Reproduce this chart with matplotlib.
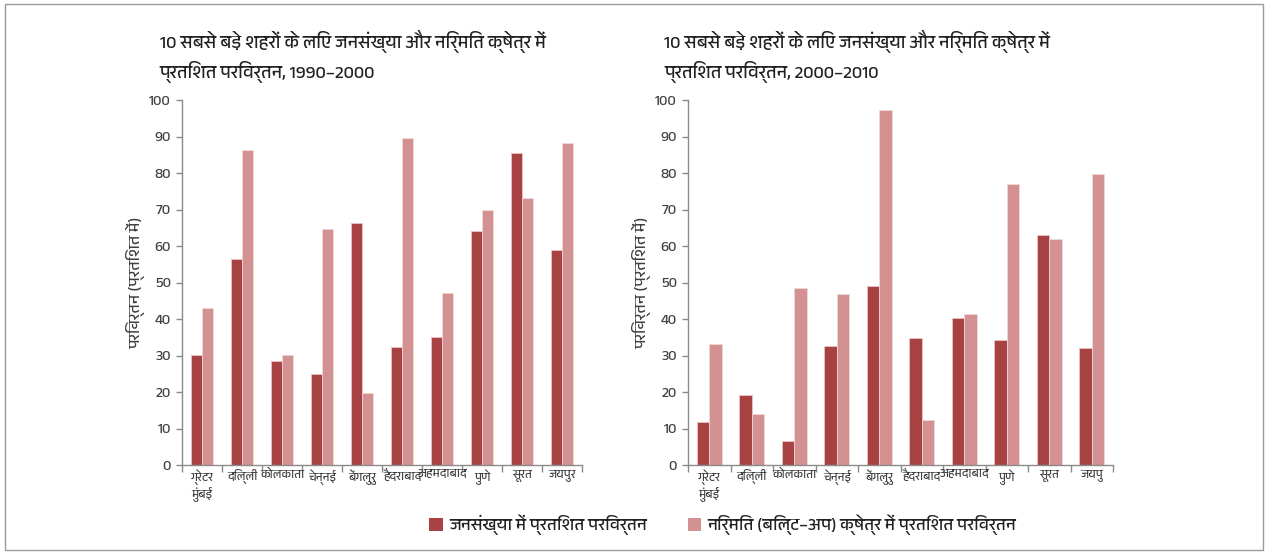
import numpy as np
import matplotlib
matplotlib.use("Agg")
import matplotlib.pyplot as plt
from matplotlib import font_manager
from matplotlib.ft2font import FT2Font
from matplotlib.patches import Rectangle, Patch

cities_a = ["ग्रेटर\nमुंबई", "दिल्ली", "कोलकाता", "चेन्नई", "बेंगलुरु", "हैदराबाद",
            "अहमदाबाद", "पुणे", "सूरत", "जयपुर"]
cities_b = ["ग्रेटर\nमुंबई", "दिल्ली", "कोलकाता", "चेन्नई", "बेंगलुरु", "हैदराबाद",
            "अहमदाबाद", "पुणे", "सूरत", "जयपु"]

pop_1990_2000 = [30.2, 56.5, 28.6, 24.9, 66.4, 32.4, 35.1, 64.0, 85.6, 59.0]
built_1990_2000 = [42.9, 86.2, 30.2, 64.8, 19.6, 89.7, 47.2, 69.8, 73.1, 88.1]
pop_2000_2010 = [11.9, 19.3, 6.7, 32.6, 49.1, 34.9, 40.3, 34.2, 63.1, 32.1]
built_2000_2010 = [33.2, 14.1, 48.4, 46.9, 97.4, 12.4, 41.4, 77.1, 61.8, 79.8]

title_a = "10 सबसे बड़े शहरों के लिए जनसंख्या और निर्मित क्षेत्र में\nप्रतिशत परिवर्तन, 1990–2000"
title_b = "10 सबसे बड़े शहरों के लिए जनसंख्या और निर्मित क्षेत्र में\nप्रतिशत परिवर्तन, 2000–2010"
ylabel = "परिवर्तन (प्रतिशत में)"
legend_labels = ["जनसंख्या में प्रतिशत परिवर्तन", "निर्मित (बिल्ट–अप) क्षेत्र में प्रतिशत परिवर्तन"]

DARK = "#a84242"
LIGHT = "#d39191"
GREY_TXT = "#404040"


def devanagari_family():
    # look for any installed font that carries Devanagari glyphs
    found = []
    for f in font_manager.fontManager.ttflist:
        try:
            if 0x0915 in FT2Font(f.fname).get_charmap():
                found.append(f.name)
        except Exception:
            pass
    if not found:
        return None
    found.sort(key=lambda n: 0 if "Devanagari" in n else 1)
    return found[0]


deva = devanagari_family()
fams = ([deva] if deva else []) + ["Open Sans", "DejaVu Sans"]
plt.rcParams["font.family"] = fams

fig = plt.figure(figsize=(12.68, 5.54), dpi=100)
fig.patches.append(Rectangle((0.004, 0.008), 0.992, 0.984, transform=fig.transFigure,
                             fill=False, edgecolor="#9a9a9a", linewidth=1))

panels = [
    ([0.1435, 0.1606, 0.3155, 0.6588], cities_a, pop_1990_2000, built_1990_2000, title_a, 0.126, 0.57),
    ([0.5426, 0.1606, 0.3352, 0.6588], cities_b, pop_2000_2010, built_2000_2010, title_b, 0.524, 0.58),
]

for rect, cities, pop, built, title, tx, pair in panels:
    ax = fig.add_axes(rect)
    x = np.arange(len(cities))
    w = pair / 2
    ax.bar(x - w / 2, pop, w, color=DARK, edgecolor="#e8c4c4", linewidth=0.6)
    ax.bar(x + w / 2, built, w, color=LIGHT, edgecolor="#f0d8d8", linewidth=0.6)
    ax.set_xlim(-0.5, len(cities) - 0.5)
    ax.set_ylim(0, 100)
    ax.set_yticks(range(0, 101, 10))
    ax.set_xticks(np.arange(-0.5, len(cities), 1.0))
    ax.set_xticklabels([])
    ax.set_xticks(x, minor=True)
    ax.set_xticklabels(cities, minor=True, fontsize=8.5, color=GREY_TXT, linespacing=1.1)
    ax.tick_params(axis="x", which="minor", length=0, pad=3)
    ax.tick_params(axis="x", which="major", length=5, color="#8a8a8a", width=1)
    ax.tick_params(axis="y", length=4, color="#8a8a8a", width=1, labelsize=10.5,
                   labelcolor=GREY_TXT, pad=4)
    for s in ("top", "right"):
        ax.spines[s].set_visible(False)
    for s in ("left", "bottom"):
        ax.spines[s].set_color("#8a8a8a")
        ax.spines[s].set_linewidth(1)
    ax.set_ylabel(ylabel, fontsize=11.5, color=GREY_TXT, labelpad=3)
    fig.text(tx, 0.945, title, fontsize=13, color="#222222", va="top", ha="left",
             linespacing=1.42)

handles = [Patch(facecolor=DARK), Patch(facecolor=LIGHT)]
fig.legend(handles, legend_labels, loc="center", bbox_to_anchor=(0.57, 0.052), ncol=2,
           frameon=False, fontsize=12.3, handlelength=0.8, handleheight=0.8,
           handletextpad=0.35, columnspacing=2.4, labelcolor="#222222")

fig.savefig("out.png", dpi=100)
